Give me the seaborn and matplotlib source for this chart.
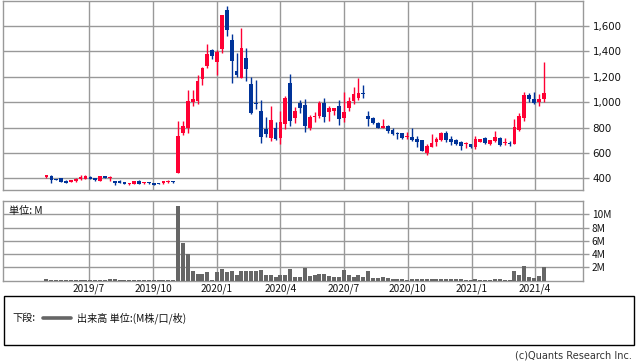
import numpy as np
import pandas as pd
import matplotlib
matplotlib.use("Agg")
import matplotlib.pyplot as plt
import matplotlib.dates as mdates
import matplotlib.patches as mpatches
from matplotlib.lines import Line2D
import seaborn as sns

# ---------------- data (weekly candles) ----------------
first_week = "2019-05-01"
opens = [410, 416, 393, 400, 383, 373, 381, 393, 398, 413, 400, 383, 416, 403, 381, 381, 373, 355, 355, 383, 361, 365, 365, 363, 361, 368, 381,
         444, 760, 799, 1002, 1009, 1185, 1288, 1409, 1319, 1419, 1727, 1488, 1246, 1193, 1348, 1143, 996, 931, 789, 720, 797, 720, 831, 1151, 878, 994, 978, 799, 885,
         894, 996, 920, 930, 970, 878, 957, 1012, 1035, 1072,
         891, 873, 836, 797, 812, 779, 752, 757, 726, 725, 712, 702, 602, 649, 686, 702, 755, 712, 704, 683, 670, 667, 644, 688, 717, 672, 694, 720, 675, 680, 672, 780, 873, 1056, 1025, 999, 1028]
closes = [426, 389, 389, 373, 363, 388, 398, 408, 421, 398, 385, 416, 403, 413, 363, 365, 358, 363, 381, 355, 373, 361, 350, 359, 376, 381, 368,
          734, 812, 1009, 1025, 1167, 1269, 1380, 1366, 1396, 1687, 1571, 1327, 1217, 1427, 1262, 913, 982, 728, 752, 860, 710, 844, 1035, 854, 928, 957, 815, 883, 889,
          996, 883, 957, 957, 868, 925, 1012, 1067, 1072, 1065,
          870, 836, 799, 812, 775, 749, 748, 720, 730, 704, 686, 618, 655, 678, 712, 755, 702, 683, 667, 652, 678, 644, 712, 707, 680, 699, 725, 662, 683, 670, 801, 888, 1056, 1025, 996, 1025, 1072]
highs = [429, 429, 398, 402, 385, 390, 400, 423, 423, 421, 402, 418, 418, 415, 383, 388, 375, 365, 383, 388, 375, 368, 367, 367, 378, 388, 383,
         854, 854, 1096, 1096, 1212, 1280, 1459, 1422, 1411, 1690, 1758, 1537, 1390, 1585, 1427, 1196, 1175, 1017, 886, 970, 844, 933, 1051, 1222, 962, 1017, 1025, 899, 923,
         1012, 1033, 972, 957, 1017, 1080, 1041, 1117, 1191, 1135,
         931, 881, 844, 870, 823, 800, 763, 757, 768, 800, 736, 706, 670, 749, 725, 765, 773, 733, 712, 696, 686, 670, 733, 710, 722, 706, 773, 722, 715, 694, 864, 914, 1077, 1072, 1077, 1064, 1317]
lows = [401, 366, 386, 371, 360, 371, 373, 391, 396, 396, 383, 381, 401, 383, 348, 363, 353, 346, 353, 353, 359, 358, 348, 355, 358, 365, 366,
        444, 739, 760, 970, 988, 1138, 1269, 1338, 1214, 1385, 1524, 1154, 1196, 1193, 1167, 907, 946, 681, 728, 697, 702, 673, 791, 815, 838, 917, 768, 781, 846,
        878, 844, 854, 899, 818, 842, 931, 988, 1017, 1035,
        815, 825, 799, 795, 760, 743, 708, 713, 708, 697, 645, 612, 586, 649, 657, 697, 686, 665, 660, 627, 641, 641, 633, 685, 670, 660, 686, 657, 660, 657, 672, 772, 850, 998, 983, 972, 999]
volumes_m = [0.30, 0.15, 0.03, 0.03, 0.03, 0.03, 0.03, 0.03, 0.03, 0.03, 0.03, 0.03, 0.03, 0.20, 0.20, 0.03, 0.03, 0.03, 0.03, 0.03, 0.03, 0.03, 0.03, 0.03, 0.03, 0.03, 0.03,
             11.2, 5.6, 4.0, 1.5, 1.0, 1.0, 1.3, 0.1, 1.3, 1.75, 1.3, 1.5, 0.8, 1.4, 1.5, 1.4, 1.4, 1.6, 0.9, 0.8, 0.6, 0.8, 0.9, 1.75, 0.5, 0.5, 1.9, 0.7, 0.8,
             1.0, 1.0, 0.7, 0.6, 0.6, 1.6, 0.9, 0.6, 0.9, 0.5,
             1.4, 0.4, 0.4, 0.5, 0.4, 0.3, 0.2, 0.2, 0.1, 0.3, 0.3, 0.3, 0.2, 0.3, 0.3, 0.2, 0.2, 0.2, 0.2, 0.2, 0.1, 0.05, 0.3, 0.05, 0.05, 0.05, 0.2, 0.2, 0.05, 0.05, 1.4, 0.9, 2.2, 0.5, 0.4, 0.7, 2.0]

month_ticks = ["2019-07-01", "2019-10-01", "2020-01-01", "2020-04-01", "2020-07-01", "2020-10-01", "2021-01-01", "2021-04-01"]
month_labels = ["2019/7", "2019/10", "2020/1", "2020/4", "2020/7", "2020/10", "2021/1", "2021/4"]
price_ticks = [400, 600, 800, 1000, 1200, 1400, 1600]
vol_ticks = [2, 4, 6, 8, 10]
vol_labels = ["2M", "4M", "6M", "8M", "10M"]

# ---------------- style ----------------
sns.set_theme(style="white")
plt.rcParams["font.family"] = ["Noto Sans CJK JP", "DejaVu Sans"]

UP = "#ff0033"
DOWN = "#003399"
GRID = "#999999"
VOL = "#666666"

W, H = 638, 362
fig = plt.figure(figsize=(W / 100, H / 100), dpi=100)
fig.patch.set_facecolor("white")

def fx(px):
    return px / W

def fy(py):
    return 1 - py / H

ax = fig.add_axes([fx(3.3), fy(190.3), fx(582.7 - 3.3), (190.3 - 0.5) / H])
axv = fig.add_axes([fx(3.3), fy(280.5), fx(582.7 - 3.3), (280.5 - 201.0) / H])

dates = pd.date_range(first_week, periods=len(opens), freq="7D")
xn = mdates.date2num(dates.to_pydatetime())
o = np.array(opens, float)
c = np.array(closes, float)
hi = np.array(highs, float)
lo = np.array(lows, float)
up = c >= o
cols = np.where(up, UP, DOWN)

# ---------------- candles ----------------
ax.vlines(xn, lo, hi, colors=cols, linewidth=1.0, zorder=3)
body_bottom = np.minimum(o, c)
body_h = np.maximum(np.abs(c - o), 8)
ax.bar(xn, body_h, bottom=body_bottom, width=5.3, color=cols, linewidth=0, zorder=4)

# ---------------- volume (seaborn) ----------------
vdf = pd.DataFrame({"x": xn, "vol": volumes_m})
sns.barplot(data=vdf, x="x", y="vol", native_scale=True, color=VOL, width=0.82,
            errorbar=None, saturation=1, ax=axv, zorder=3, linewidth=0)

xlim = (mdates.date2num(pd.Timestamp("2019-02-28")), mdates.date2num(pd.Timestamp("2021-06-09")))
tick_x = mdates.date2num(pd.to_datetime(month_ticks).to_pydatetime())

for a in (ax, axv):
    a.set_xlim(*xlim)
    a.set_xticks(tick_x)
    a.grid(True, color=GRID, linewidth=1.0, zorder=0)
    a.set_axisbelow(True)
    for s in a.spines.values():
        s.set_color(GRID)
        s.set_linewidth(1.0)
    a.set_xlabel("")
    a.set_ylabel("")
    a.set_facecolor("white")

ax.set_ylim(306, 1801)
ax.set_yticks(price_ticks)
ax.set_yticklabels([f"{v:,}" for v in price_ticks], fontsize=7.4, color="#111111",
                   family=["DejaVu Sans"])
ax.yaxis.tick_right()
ax.tick_params(axis="y", length=4.5, color=GRID, width=1.0, pad=2.5)
ax.tick_params(axis="x", length=0, labelbottom=False)

axv.set_ylim(0, 12)
axv.set_yticks(vol_ticks)
axv.set_yticklabels(vol_labels, fontsize=7.3, color="#111111")
axv.yaxis.tick_right()
axv.tick_params(axis="y", length=4.5, color=GRID, width=1.0, pad=2.0)
axv.set_xticklabels(month_labels, fontsize=7.3, color="#111111")
axv.tick_params(axis="x", length=0, pad=2.5)

axv.text(0.01, 0.94, "単位: M", transform=axv.transAxes, fontsize=7.3, color="#111111",
         ha="left", va="top")

# ---------------- legend box ----------------
fig.patches.append(mpatches.Rectangle((fx(4), fy(345)), fx(630), (345 - 296) / H,
                                      transform=fig.transFigure, fill=False,
                                      edgecolor="#000000", linewidth=1.0))
fig.text(fx(12), fy(318), "下段:", fontsize=7.3, color="#111111", va="center", ha="left")
fig.lines.append(Line2D([fx(43), fx(71)], [fy(318), fy(318)], transform=fig.transFigure,
                        color=VOL, linewidth=2.6))
fig.text(fx(77), fy(318), "出来高 単位:(M株/口/枚)", fontsize=7.3, color="#111111",
         va="center", ha="left")
fig.text(fx(632), fy(356), "(c)Quants Research Inc.", fontsize=7.0, color="#333333",
         va="center", ha="right", family=["DejaVu Sans"])

fig.savefig("out.png", dpi=100, facecolor="white")
